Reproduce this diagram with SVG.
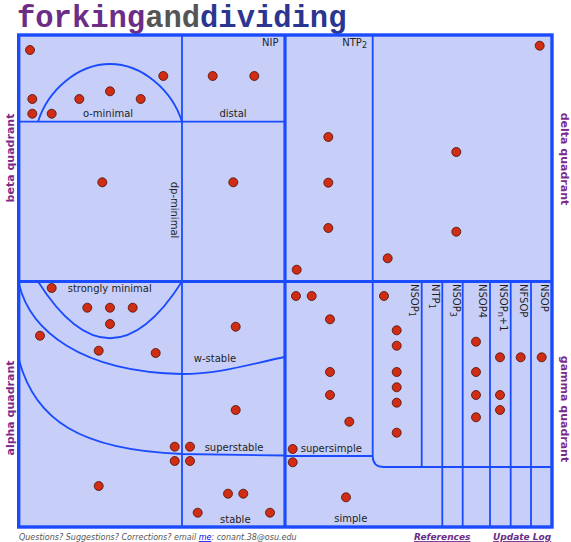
<svg xmlns="http://www.w3.org/2000/svg" width="571" height="542" viewBox="0 0 571 542">
<style>
.ln{fill:none;stroke:#1a4bff;stroke-width:1.8}
.th{fill:none;stroke:#1a4bff;stroke-width:3.2}
.lbl{font-family:"DejaVu Sans",Verdana,sans-serif;font-size:10px;fill:#1e1e1e}
.q{font-family:"DejaVu Sans",Verdana,sans-serif;font-size:11px;font-weight:bold;fill:#7b2a8b}
.d{fill:#d12c14;stroke:#4a1208;stroke-width:0.8}
.ft{font-family:"DejaVu Sans",Verdana,sans-serif;font-style:italic}
</style>
<defs><circle id="dot" r="4.5" class="d"/></defs>
<rect width="571" height="542" fill="#ffffff"/>
<g id="title">
<text y="27" font-family="'Liberation Mono',monospace" font-weight="bold" font-size="30.5"><tspan x="17" fill="#6b2d86">forking</tspan><tspan fill="#555555">and</tspan><tspan fill="#2c3590">dividing</tspan></text>
</g>
<g id="quadrant-labels">
<text class="q" text-anchor="middle" transform="translate(13.5,158) rotate(-90)">beta quadrant</text>
<text class="q" text-anchor="middle" transform="translate(13.5,408) rotate(-90)">alpha quadrant</text>
<text class="q" text-anchor="middle" transform="translate(560.5,159) rotate(90)">delta quadrant</text>
<text class="q" text-anchor="middle" transform="translate(560.5,409) rotate(90)">gamma quadrant</text>
</g>
<g id="board">
<rect x="18.7" y="35" width="533.3" height="492" fill="#c7cff8" stroke="#1a4bff" stroke-width="3.4"/>
</g>
<g id="connectors">
<path class="ln" d="M18.7,121.7 H285"/>
<path class="ln" d="M182,35 V527"/>
<path class="ln" d="M372.7,35 V456 Q372.7,467 384,467 H552"/>
<path class="ln" d="M285,456 H372.7"/>
<path class="ln" d="M38,121.7 C48,90 78,64 110,64 C142,64 172,90 182,121.7"/>
<path class="ln" d="M38,281.5 Q110,395 182,281.5"/>
<path class="ln" d="M19,284 C30,330 80,372 182,374 C220,374 250,364 285,357"/>
<path class="ln" d="M19,360 C35,420 80,450 182,454 L285,455.5"/>
<path class="ln" d="M421.7,281.5 V467 M442.3,281.5 V527 M462.7,281.5 V527 M490,281.5 V527 M510.7,281.5 V527 M531,281.5 V527"/>
<path class="th" d="M285,35 V527 M18.7,281.5 H552"/>
</g>
<g id="region-labels" class="lbl">
<text x="278.5" y="45.5" text-anchor="end">NIP</text>
<text x="367" y="45.5" text-anchor="end">NTP<tspan font-size="8" dy="2">2</tspan></text>
<text x="108" y="116.5" text-anchor="middle">o-minimal</text>
<text x="233" y="116.5" text-anchor="middle">distal</text>
<text transform="translate(170.5,181.7) rotate(90)">dp-minimal</text>
<text x="109.7" y="291.7" text-anchor="middle">strongly minimal</text>
<text x="215" y="361.7" text-anchor="middle">w-stable</text>
<text x="234" y="450.7" text-anchor="middle">superstable</text>
<text x="235.3" y="522.5" text-anchor="middle">stable</text>
<text x="300.7" y="451.7">supersimple</text>
<text x="350.8" y="522.3" text-anchor="middle">simple</text>
<text transform="translate(411,284) rotate(90)">NSOP<tspan font-size="8" dy="2.5">1</tspan></text>
<text transform="translate(431.5,284) rotate(90)">NTP<tspan font-size="8" dy="2.5">1</tspan></text>
<text transform="translate(452.5,284) rotate(90)">NSOP<tspan font-size="8" dy="2.5">3</tspan></text>
<text transform="translate(479,284) rotate(90)">NSOP4</text>
<text transform="translate(500,284) rotate(90)">NSOP<tspan font-size="8" dy="2.5">n</tspan><tspan dy="-2.5">+1</tspan></text>
<text transform="translate(520,284) rotate(90)">NFSOP</text>
<text transform="translate(541,284) rotate(90)">NSOP</text>
</g>
<g id="dots">
<use href="#dot" x="30" y="50"/><use href="#dot" x="163.3" y="76"/><use href="#dot" x="212.7" y="76"/><use href="#dot" x="254.3" y="76"/>
<use href="#dot" x="32.3" y="99"/><use href="#dot" x="79.3" y="99"/><use href="#dot" x="110" y="91.3"/><use href="#dot" x="140.7" y="99"/>
<use href="#dot" x="32.3" y="113.7"/><use href="#dot" x="51.7" y="113.7"/>
<use href="#dot" x="102.3" y="182.3"/><use href="#dot" x="233.3" y="182.3"/>
<use href="#dot" x="539.7" y="45.7"/><use href="#dot" x="328.3" y="137"/><use href="#dot" x="328.3" y="182.7"/><use href="#dot" x="328.3" y="228"/>
<use href="#dot" x="296.7" y="269.7"/><use href="#dot" x="456.3" y="152"/><use href="#dot" x="456.3" y="231.7"/><use href="#dot" x="387.7" y="258.3"/>
<use href="#dot" x="51.7" y="288"/><use href="#dot" x="87.3" y="307.7"/><use href="#dot" x="110" y="307.7"/><use href="#dot" x="132.7" y="307.7"/>
<use href="#dot" x="110" y="324"/><use href="#dot" x="40" y="335.7"/><use href="#dot" x="98.7" y="350.7"/><use href="#dot" x="155.7" y="353"/>
<use href="#dot" x="235.7" y="326.7"/><use href="#dot" x="235.7" y="410"/>
<use href="#dot" x="174.7" y="446.7"/><use href="#dot" x="190" y="446.7"/><use href="#dot" x="174.7" y="461"/><use href="#dot" x="190" y="461"/>
<use href="#dot" x="98.7" y="486"/><use href="#dot" x="228" y="493.7"/><use href="#dot" x="243.3" y="493.7"/><use href="#dot" x="197.7" y="512.7"/><use href="#dot" x="270" y="512.7"/>
<use href="#dot" x="296" y="296"/><use href="#dot" x="311.7" y="296"/><use href="#dot" x="384" y="296"/><use href="#dot" x="330" y="319.3"/>
<use href="#dot" x="396.7" y="330.3"/><use href="#dot" x="396.7" y="345.7"/><use href="#dot" x="476" y="341.7"/>
<use href="#dot" x="500" y="357.3"/><use href="#dot" x="520.7" y="357.3"/><use href="#dot" x="541.7" y="357.3"/>
<use href="#dot" x="330" y="372"/><use href="#dot" x="396.7" y="372"/><use href="#dot" x="476" y="372"/><use href="#dot" x="396.7" y="387.3"/>
<use href="#dot" x="330" y="395"/><use href="#dot" x="476" y="395"/><use href="#dot" x="500" y="395"/><use href="#dot" x="396.7" y="402.7"/>
<use href="#dot" x="500" y="410"/><use href="#dot" x="476" y="417.3"/><use href="#dot" x="349.3" y="421.7"/><use href="#dot" x="396.7" y="432.7"/>
<use href="#dot" x="292.7" y="449"/><use href="#dot" x="292.7" y="462.3"/><use href="#dot" x="346" y="497.3"/>
</g>
<g id="footer">
<text class="ft" x="19" y="540" font-size="8" fill="#555555">Questions? Suggestions? Corrections? email <tspan fill="#0000ee" text-decoration="underline">me</tspan>: conant.38@osu.edu</text>
<text class="ft" x="414" y="540" font-size="9" font-weight="bold" fill="#6b2d86" text-decoration="underline">References</text>
<text class="ft" x="493" y="540" font-size="9" font-weight="bold" fill="#6b2d86" text-decoration="underline">Update Log</text>
</g>
</svg>
